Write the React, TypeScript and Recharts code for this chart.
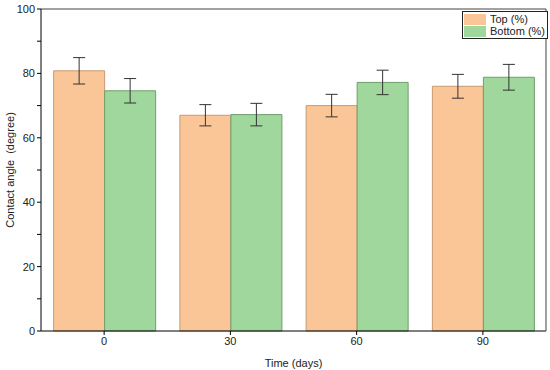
import { BarChart, Bar, XAxis, YAxis, ErrorBar } from 'recharts';

const days = ['0', '30', '60', '90'];
const topValues = [80.8, 67.0, 70.0, 76.0];
const topErrors = [4.1, 3.3, 3.5, 3.7];
const bottomValues = [74.6, 67.2, 77.2, 78.8];
const bottomErrors = [3.8, 3.5, 3.8, 4.0];
const yTicks = [0, 10, 20, 30, 40, 50, 60, 70, 80, 90, 100];

const data = days.map((d, i) => ({
  day: d,
  top: topValues[i],
  topErr: topErrors[i],
  bottom: bottomValues[i],
  bottomErr: bottomErrors[i],
}));

const TOP_FILL = '#FAC697';
const TOP_STROKE = '#C89A72';
const BOTTOM_FILL = '#A0D79C';
const BOTTOM_STROKE = '#6E9E6B';
const FONT = '"Liberation Sans", Arial, sans-serif';

function LegendBox() {
  const items = [
    { label: 'Top (%)', fill: TOP_FILL },
    { label: 'Bottom (%)', fill: BOTTOM_FILL },
  ];
  return (
    <div
      style={{
        position: 'absolute',
        left: 462,
        top: 11,
        border: '1px solid #222',
        background: '#fff',
        padding: '1px 2px 1px 1px',
        fontFamily: FONT,
        fontSize: 11,
        color: '#222',
        whiteSpace: 'nowrap',
      }}
    >
      {items.map((it) => (
        <div key={it.label} style={{ display: 'flex', alignItems: 'center', height: 12 }}>
          <span style={{ width: 22, height: 11, background: it.fill, marginRight: 4, display: 'inline-block' }} />
          <span>{it.label}</span>
        </div>
      ))}
    </div>
  );
}

export default function App() {
  return (
    <div style={{ position: 'absolute', left: 0, top: 0, width: 550, height: 370, background: '#fff' }}>
      <BarChart
        width={550}
        height={370}
        data={data}
        margin={{ top: 8, right: 3, left: 0, bottom: 0 }}
        barCategoryGap="10%"
        barGap={0}
      >
        <XAxis
          dataKey="day"
          height={39}
          stroke="#000"
          tick={{ fill: '#222', fontSize: 11, fontFamily: FONT }}
          tickSize={4}
          label={{ value: 'Time (days)', position: 'insideBottom', offset: 3, fill: '#222', fontSize: 11, fontFamily: FONT }}
        />
        <XAxis
          xAxisId="topframe"
          dataKey="day"
          orientation="top"
          stroke="#444"
          axisLine={{ stroke: '#444' }}
          tick={false}
          tickLine={false}
          height={1}
        />
        <YAxis
          domain={[0, 100]}
          ticks={yTicks}
          interval={0}
          width={41}
          stroke="#000"
          tickSize={4}
          tickFormatter={(v: number) => (v % 20 === 0 ? String(v) : '')}
          tick={{ fill: '#222', fontSize: 11, fontFamily: FONT }}
          label={{
            value: 'Contact angle\u00a0\u00a0(degree)',
            angle: -90,
            position: 'insideLeft',
            offset: 10,
            style: { textAnchor: 'middle' },
            fill: '#222',
            fontSize: 11,
            fontFamily: FONT,
          }}
        />
        <YAxis
          yAxisId="rightframe"
          orientation="right"
          stroke="#444"
          axisLine={{ stroke: '#444' }}
          tick={false}
          tickLine={false}
          width={1}
          domain={[0, 100]}
        />
        <Bar dataKey="top" name="Top (%)" fill={TOP_FILL} stroke={TOP_STROKE} isAnimationActive={false}>
          <ErrorBar dataKey="topErr" width={6} stroke="#333" strokeWidth={1} />
        </Bar>
        <Bar dataKey="bottom" name="Bottom (%)" fill={BOTTOM_FILL} stroke={BOTTOM_STROKE} isAnimationActive={false}>
          <ErrorBar dataKey="bottomErr" width={6} stroke="#333" strokeWidth={1} />
        </Bar>
      </BarChart>
      <LegendBox />
    </div>
  );
}
